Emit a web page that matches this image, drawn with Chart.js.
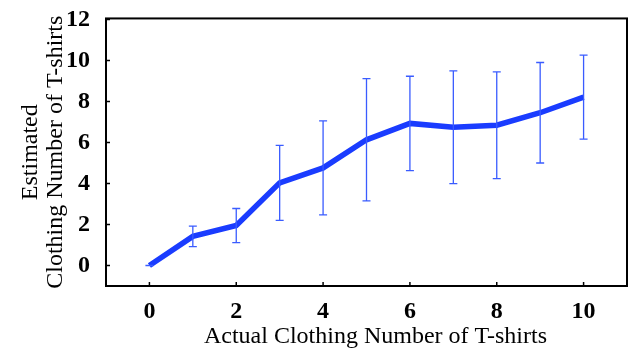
<!DOCTYPE html>
<html>
<head>
<meta charset="utf-8">
<script src="https://cdn.jsdelivr.net/npm/chart.js@4"></script>
<style>
  html, body { margin: 0; padding: 0; background: #fff; }
  #wrap { width: 632px; height: 351px; }
</style>
</head>
<body>
<div id="wrap"><canvas id="shirtChart" width="632" height="351"></canvas></div>
<script>
// actual number of T-shirts (x) and the mean estimate with its spread
const actualCounts = [0, 1, 2, 3, 4, 5, 6, 7, 8, 9, 10];
const estimatedMean = [0, 1.42, 1.95, 4.03, 4.76, 6.13, 6.93, 6.74, 6.84, 7.45, 8.21];
const estimatedErr = [0, 0.5, 0.83, 1.83, 2.29, 2.98, 2.3, 2.75, 2.6, 2.45, 2.05];

// tick labels
const xTickValues = [0, 2, 4, 6, 8, 10];
const yTickValues = [0, 2, 4, 6, 8, 10, 12];

const serif = "'Liberation Serif', 'Times New Roman', serif";

// error bars, inward ticks and the frame drawn with the chart's own scales
const errorBars = {
    id: 'errorBars',
    afterDatasetsDraw(chart) {
        const { ctx, scales: { x, y }, chartArea } = chart;
        ctx.save();

        // error bars
        ctx.strokeStyle = '#3a5cff';
        ctx.lineWidth = 1.3;
        const cap = 4;
        actualCounts.forEach((v, i) => {
            const px = x.getPixelForValue(v);
            const top = y.getPixelForValue(estimatedMean[i] + estimatedErr[i]);
            const bot = y.getPixelForValue(estimatedMean[i] - estimatedErr[i]);
            ctx.beginPath();
            ctx.moveTo(px, top); ctx.lineTo(px, bot);
            ctx.moveTo(px - cap, top); ctx.lineTo(px + cap, top);
            ctx.moveTo(px - cap, bot); ctx.lineTo(px + cap, bot);
            ctx.stroke();
        });

        // frame
        ctx.strokeStyle = '#000';
        ctx.lineWidth = 2;
        ctx.strokeRect(chartArea.left, chartArea.top, chartArea.right - chartArea.left, chartArea.bottom - chartArea.top);

        // inward ticks
        ctx.lineWidth = 1.5;
        ctx.beginPath();
        xTickValues.forEach(v => {
            const px = x.getPixelForValue(v);
            ctx.moveTo(px, chartArea.bottom);
            ctx.lineTo(px, chartArea.bottom - 4);
        });
        yTickValues.forEach(v => {
            const py = y.getPixelForValue(v);
            ctx.moveTo(chartArea.left, py);
            ctx.lineTo(chartArea.left + 4, py);
        });
        ctx.stroke();
        ctx.restore();
    }
};

const ctx = document.getElementById('shirtChart').getContext('2d');

new Chart(ctx, {
    type: 'line',
    data: {
        datasets: [{
            data: actualCounts.map((v, i) => ({ x: v, y: estimatedMean[i] })),
            borderColor: '#1a3cff',
            borderWidth: 5.5,
            pointRadius: 0,
            fill: false,
            tension: 0
        }]
    },
    options: {
        responsive: false,
        animation: false,
        layout: { padding: { top: 0, right: 5, left: 0, bottom: 0 } },
        plugins: { legend: { display: false }, tooltip: { enabled: false } },
        scales: {
            x: {
                type: 'linear',
                min: -1,
                max: 11,
                grid: { display: false },
                border: { display: false },
                afterBuildTicks: s => { s.ticks = xTickValues.map(v => ({ value: v })); },
                ticks: {
                    color: '#000',
                    padding: 3,
                    font: { family: serif, size: 24, weight: 'bold' }
                },
                title: {
                    display: true,
                    text: '   Actual Clothing Number of T-shirts',
                    color: '#000',
                    padding: { top: 0, bottom: 0 },
                    font: { family: serif, size: 24 }
                },
                afterFit: s => { s.height = 65; }
            },
            y: {
                min: -1,
                max: 12.05,
                grid: { display: false },
                border: { display: false },
                afterBuildTicks: s => { s.ticks = yTickValues.map(v => ({ value: v })); },
                ticks: {
                    color: '#000',
                    padding: 8,
                    font: { family: serif, size: 24, weight: 'bold', lineHeight: 0.87 }
                },
                title: {
                    display: true,
                    text: ['Estimated', 'Clothing Number of T-shirts'],
                    color: '#000',
                    padding: { top: 18, bottom: 0 },
                    font: { family: serif, size: 24, lineHeight: 1.05 }
                },
                afterFit: s => { s.width = 106; }
            }
        }
    },
    plugins: [errorBars]
});
</script>
</body>
</html>
